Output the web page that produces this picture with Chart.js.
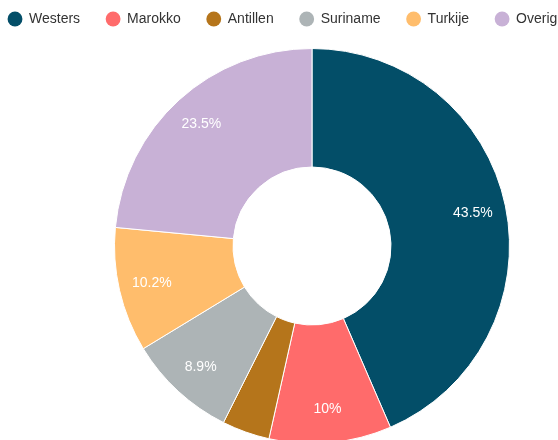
<!DOCTYPE html>
<html>
<head>
<meta charset="utf-8">
<script src="https://cdn.jsdelivr.net/npm/chart.js@4/dist/chart.umd.min.js"></script>
<style>
  html, body { margin: 0; padding: 0; background: #fff; overflow: hidden; }
  canvas { display: block; }
</style>
</head>
<body>
<canvas id="herkomst" width="558" height="440"></canvas>
<script>
// herkomst groepen + aandeel (%)
var labels = ['Westers', 'Marokko', 'Antillen', 'Suriname', 'Turkije', 'Overig'];
var shares = [43.5, 10, 3.9, 8.9, 10.2, 23.5];
var colors = ['#034e68', '#ff6b6b', '#b5751b', '#adb4b6', '#ffbd6c', '#c8b1d6'];

// the ring sits right of centre and runs off the bottom edge
var plotBox = { left: 114, top: 48, size: 396 };

var ringArea = {
    id: 'ringArea',
    afterLayout: function (chart) {
        chart.chartArea = {
            left: plotBox.left,
            top: plotBox.top,
            right: plotBox.left + plotBox.size,
            bottom: plotBox.top + plotBox.size,
            width: plotBox.size,
            height: plotBox.size
        };
    }
};

// simple label plugin, puts the percentage inside each slice
var sliceLabels = {
    id: 'sliceLabels',
    afterDatasetsDraw: function (chart) {
        var ctx = chart.ctx;
        var meta = chart.getDatasetMeta(0);
        ctx.save();
        ctx.font = '14px "Liberation Sans", Arial, sans-serif';
        ctx.fillStyle = '#ffffff';
        ctx.textAlign = 'center';
        ctx.textBaseline = 'middle';
        meta.data.forEach(function (arc, i) {
            var v = shares[i];
            if (v < 5) return; // too small, no label
            var p = arc.getProps(['x', 'y', 'startAngle', 'endAngle', 'innerRadius', 'outerRadius'], true);
            var mid = (p.startAngle + p.endAngle) / 2;
            var r = p.innerRadius + (p.outerRadius - p.innerRadius) * 0.72;
            ctx.fillText(v + '%', p.x + Math.cos(mid) * r, p.y + Math.sin(mid) * r);
        });
        ctx.restore();
    }
};

var ctx = document.getElementById('herkomst').getContext('2d');
var myChart = new Chart(ctx, {
    type: 'doughnut',
    data: {
        labels: labels,
        datasets: [{
            data: shares,
            backgroundColor: colors,
            borderColor: '#ffffff',
            borderWidth: 1
        }]
    },
    options: {
        responsive: false,
        animation: false,
        cutout: '40%',
        layout: {
            // legend runs wider than the canvas, like the original
            padding: { top: -14, left: -18, right: -84, bottom: 0 }
        },
        plugins: {
            tooltip: { enabled: false },
            legend: {
                display: true,
                position: 'top',
                align: 'start',
                labels: {
                    usePointStyle: true,
                    pointStyle: 'circle',
                    boxWidth: 14,
                    boxHeight: 10.5,
                    padding: 26,
                    color: '#333333',
                    font: { family: '"Liberation Sans", Arial, sans-serif', size: 14 },
                    generateLabels: function (chart) {
                        var items = Chart.overrides.doughnut.plugins.legend.labels.generateLabels(chart);
                        return items.map(function (it) {
                            it.lineWidth = 0;
                            return it;
                        });
                    }
                }
            }
        }
    },
    plugins: [ringArea, sliceLabels]
});
</script>
</body>
</html>
